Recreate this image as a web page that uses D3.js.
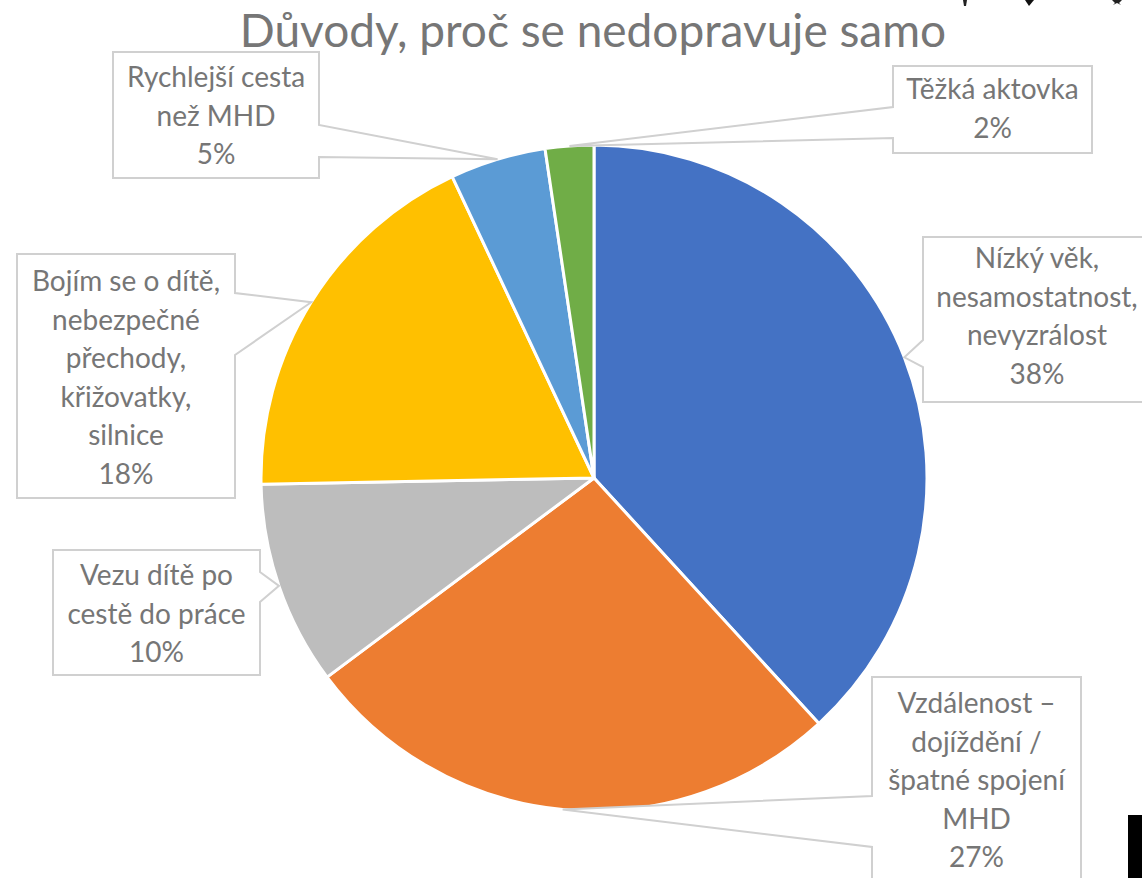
<!DOCTYPE html>
<html>
<head>
<meta charset="utf-8">
<script src="https://cdn.jsdelivr.net/npm/d3@7"></script>
<style>
  html, body { margin: 0; padding: 0; background: #fff; }
  svg { display: block; }
</style>
</head>
<body>
<div id="chart"></div>
<script>
"use strict";

// chart data (shares in %, labels show them rounded)
const title = "Důvody, proč se nedopravuje samo";
const categories = [
    ["Nízký věk,", "nesamostatnost,", "nevyzrálost"],
    ["Vzdálenost –", "dojíždění /", "špatné spojení", "MHD"],
    ["Vezu dítě po", "cestě do práce"],
    ["Bojím se o dítě,", "nebezpečné", "přechody,", "křižovatky,", "silnice"],
    ["Rychlejší cesta", "než MHD"],
    ["Těžká aktovka"]
];
const values = [38.2, 26.6, 9.9, 18.3, 4.65, 2.35];
const colors = ["#4472C4", "#ED7D31", "#BDBDBD", "#FFC000", "#5B9BD5", "#70AD47"];

// callout boxes: x, y, w, h, side the wedge sits on, wedge attach ys, first baseline
const callouts = [
    { x: 923, y: 237, w: 228, h: 165, side: "left",  a1: 340, a2: 367, base: 268 },
    { x: 872, y: 677, w: 209, h: 230, side: "left",  a1: 796, a2: 847, base: 713 },
    { x: 53,  y: 550, w: 207, h: 125, side: "right", a1: 572, a2: 602, base: 585 },
    { x: 17,  y: 254, w: 218, h: 244, side: "right", a1: 293, a2: 355, base: 291 },
    { x: 113, y: 52,  w: 206, h: 126, side: "right", a1: 125, a2: 157, base: 87 },
    { x: 893, y: 66,  w: 199, h: 87,  side: "left",  a1: 107, a2: 138, base: 99 }
];

const width = 1142, height = 878;
const cx = 594, cy = 478, radius = 333;
const lineH = 38.5;
const textColor = "#767676";
const boxColor = "#D0D0D0";
const font = "Lato, 'Open Sans', sans-serif";

const svg = d3.select("#chart").append("svg")
    .attr("width", width)
    .attr("height", height);

// title
svg.append("text")
    .attr("x", 593)
    .attr("y", 47)
    .attr("text-anchor", "middle")
    .attr("font-family", font)
    .attr("font-size", 46)
    .attr("fill", textColor)
    .text(title);

// pie, clockwise from twelve o'clock
const pie = d3.pie().sort(null).value(d => d);
const arcs = pie(values);
const arc = d3.arc().innerRadius(0).outerRadius(radius);

const g = svg.append("g").attr("transform", "translate(" + cx + "," + cy + ")");
g.selectAll("path")
    .data(arcs)
    .enter()
    .append("path")
    .attr("d", arc)
    .attr("fill", (d, i) => colors[i])
    .attr("stroke", "#fff")
    .attr("stroke-width", 3)
    .attr("stroke-linejoin", "round");

// callouts with a wedge pointing at the middle of each slice
arcs.forEach((d, i) => {
    const c = callouts[i];
    const mid = (d.startAngle + d.endAngle) / 2;
    const tx = cx + radius * Math.sin(mid);
    const ty = cy - radius * Math.cos(mid);

    const p = d3.path();
    if (c.side === "left") {
        p.moveTo(c.x, c.y);
        p.lineTo(c.x + c.w, c.y);
        p.lineTo(c.x + c.w, c.y + c.h);
        p.lineTo(c.x, c.y + c.h);
        p.lineTo(c.x, c.a2);
        p.lineTo(tx, ty);
        p.lineTo(c.x, c.a1);
        p.closePath();
    } else {
        p.moveTo(c.x, c.y);
        p.lineTo(c.x + c.w, c.y);
        p.lineTo(c.x + c.w, c.a1);
        p.lineTo(tx, ty);
        p.lineTo(c.x + c.w, c.a2);
        p.lineTo(c.x + c.w, c.y + c.h);
        p.lineTo(c.x, c.y + c.h);
        p.closePath();
    }
    svg.append("path")
        .attr("d", p.toString())
        .attr("fill", "#fff")
        .attr("stroke", boxColor)
        .attr("stroke-width", 2);

    const lines = categories[i].concat([Math.round(values[i]) + "%"]);
    const t = svg.append("text")
        .attr("text-anchor", "middle")
        .attr("font-family", font)
        .attr("font-size", 28)
        .attr("fill", textColor);
    lines.forEach((s, j) => {
        t.append("tspan")
            .attr("x", c.x + c.w / 2)
            .attr("y", c.base + j * lineH)
            .text(s);
    });
});

// stray bits of the screenshot edges
svg.append("rect").attr("x", 1128).attr("y", 815).attr("width", 14).attr("height", 63).attr("fill", "#000");
svg.append("path").attr("d", "M963,0 L967,0 L966,6 L964,6 Z").attr("fill", "#222");
svg.append("path").attr("d", "M1025,0 L1034,0 L1029,6 Z").attr("fill", "#111");
svg.append("path").attr("d", "M1112,0 L1122,0 L1119,3 L1121,5 L1117,3 L1113,5 L1115,3 Z").attr("fill", "#222");
</script>
</body>
</html>
